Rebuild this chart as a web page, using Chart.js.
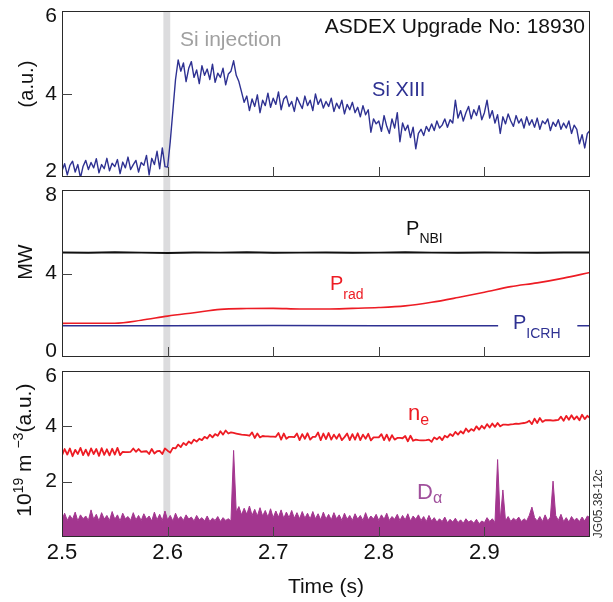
<!DOCTYPE html>
<html>
<head>
<meta charset="utf-8">
<script src="https://cdn.jsdelivr.net/npm/chart.js@4.4.1/dist/chart.umd.min.js"></script>
<style>
  html, body { margin: 0; padding: 0; background: #fff; }
  #wrap { position: relative; width: 613px; height: 602px; }
  .panel { position: absolute; left: 0; width: 613px; }
</style>
</head>
<body>
<div id="wrap">
  <div class="panel" style="top:0;height:183px"><canvas id="si"></canvas></div>
  <div class="panel" style="top:183px;height:181px"><canvas id="power"></canvas></div>
  <div class="panel" style="top:364px;height:238px"><canvas id="dens"></canvas></div>
</div>
<script>
const T_START = 2.5
const T_END = 3.0
const DT = 0.0025 // spacing of the fast diagnostics
const injection = [2.596, 2.6025]
const timeTicks = [2.6, 2.7, 2.8, 2.9]

// Si XIII line intensity (a.u.)
const siXIII = [
  2.15, 2.32, 2.05, 2.28, 2.38, 2.12, 2.30, 1.98, 2.26, 2.40,
  2.18, 2.35, 2.22, 2.44, 2.10, 2.30, 2.20, 2.45, 2.15, 2.33,
  2.25, 2.42, 2.08, 2.36, 2.22, 2.48, 2.18, 2.30, 2.40, 2.12,
  2.35, 2.28, 2.52, 2.05, 2.45, 2.30, 2.62, 2.20, 2.70, 2.25,
  2.24, 2.85, 3.60, 4.35, 4.82, 4.55, 4.75, 4.30, 4.62, 4.78,
  4.40, 4.58, 4.25, 4.68, 4.45, 4.60, 4.35, 4.72, 4.28, 4.50,
  4.40, 4.62, 4.22, 4.48, 4.55, 4.80, 4.45, 4.30, 4.05, 3.80,
  3.95, 3.60, 3.88, 3.70, 3.98, 3.55, 3.85, 3.72, 4.02, 3.68,
  3.90, 3.75, 4.05, 3.62, 3.88, 3.95, 3.70, 3.82, 3.58, 3.92,
  3.78, 3.65, 3.95, 3.72, 3.85, 3.60, 4.00, 3.75, 3.88, 3.66,
  3.82, 3.70, 3.90, 3.58, 3.78, 3.65, 3.85, 3.52, 3.75, 3.62,
  3.80, 3.55, 3.68, 3.45, 3.72, 3.50, 3.62, 3.08, 3.40, 3.28,
  3.35, 3.10, 3.48, 3.22, 3.05, 3.40, 3.18, 3.55, 2.85, 3.30,
  3.12, 3.25, 2.95, 3.20, 2.68, 3.05, 3.15, 3.00, 3.22, 3.10,
  3.28, 3.12, 3.35, 3.18, 3.25, 3.40, 3.20, 3.38, 3.30, 3.85,
  3.42, 3.60, 3.35, 3.55, 3.70, 3.40, 3.62, 3.48, 3.72, 3.38,
  3.55, 3.85, 3.42, 3.60, 3.30, 3.50, 3.05, 3.45, 3.28, 3.52,
  3.35, 3.22, 3.48, 3.30, 3.40, 3.18, 3.45, 3.25, 3.38, 3.20,
  3.42, 3.15, 3.35, 3.28, 3.40, 3.12, 3.32, 3.22, 3.38, 3.15,
  3.30, 3.18, 3.35, 3.05, 3.25, 3.15, 2.80, 3.02, 2.70, 3.05, 3.12
]

// line averaged density, 10^19 m^-3
const neLine = [
  2.95, 3.18, 2.98, 3.20, 2.92, 3.15, 3.00, 3.22, 2.96, 3.16,
  2.94, 3.20, 3.00, 3.18, 2.93, 3.21, 2.97, 3.17, 2.95, 3.19,
  2.98, 3.22, 2.96, 3.08, 3.07, 3.07, 3.08, 3.20, 3.08, 3.18,
  3.08, 3.09, 3.10, 3.00, 3.18, 3.02, 3.10, 3.11, 3.00, 3.20,
  3.12, 3.05, 3.22, 3.20, 3.34, 3.25, 3.40, 3.32, 3.45, 3.38,
  3.52, 3.45, 3.55, 3.50, 3.62, 3.56, 3.70, 3.60, 3.72, 3.66,
  3.82, 3.70, 3.85, 3.74, 3.78, 3.76, 3.74, 3.72, 3.70, 3.69,
  3.68, 3.66, 3.78, 3.58, 3.74, 3.60, 3.65, 3.64, 3.64, 3.63,
  3.63, 3.62, 3.76, 3.52, 3.74, 3.55, 3.62, 3.62, 3.61, 3.74,
  3.50, 3.72, 3.55, 3.75, 3.52, 3.62, 3.62, 3.78, 3.50, 3.74,
  3.54, 3.76, 3.52, 3.70, 3.55, 3.72, 3.50, 3.61, 3.74, 3.50,
  3.72, 3.52, 3.75, 3.50, 3.70, 3.55, 3.73, 3.49, 3.60, 3.60,
  3.60, 3.72, 3.50, 3.70, 3.48, 3.68, 3.52, 3.58, 3.58, 3.57,
  3.65, 3.46, 3.66, 3.48, 3.52, 3.50, 3.49, 3.49, 3.50, 3.52,
  3.44, 3.60, 3.53, 3.62, 3.50, 3.66, 3.60, 3.72, 3.65, 3.80,
  3.70, 3.82, 3.74, 3.92, 3.80, 3.90, 3.84, 4.00, 3.88, 4.02,
  3.92, 4.08, 3.96, 4.10, 3.98, 4.12, 4.00, 4.06, 4.06, 4.05,
  4.07, 4.08, 4.10, 4.09, 4.11, 4.12, 4.14, 4.20, 4.08, 4.28,
  4.12, 4.30, 4.16, 4.22, 4.22, 4.22, 4.21, 4.22, 4.23, 4.35,
  4.20, 4.38, 4.24, 4.40, 4.25, 4.36, 4.22, 4.42, 4.26, 4.38, 4.30
]

// D-alpha emission (a.u.)
const dAlpha = [
  0.62, 0.86, 0.60, 0.78, 0.64, 0.90, 0.58, 0.80, 0.66, 0.76,
  0.60, 0.98, 0.64, 0.82, 0.58, 0.88, 0.65, 0.78, 0.60, 0.92,
  0.64, 0.80, 0.58, 0.86, 0.66, 0.74, 0.60, 0.88, 0.62, 0.78,
  0.60, 0.84, 0.65, 0.76, 0.58, 0.90, 0.62, 0.82, 0.60, 0.94,
  0.62, 0.78, 0.58, 0.86, 0.64, 0.74, 0.60, 0.80, 0.65, 0.72,
  0.58, 0.78, 0.62, 0.70, 0.58, 0.76, 0.56, 0.68, 0.60, 0.74,
  0.56, 0.70, 0.60, 0.66, 0.58, 3.13, 0.90, 1.10, 0.80, 1.04,
  0.82, 1.12, 0.78, 1.00, 0.76, 1.06, 0.76, 0.96, 0.72, 1.02,
  0.70, 0.94, 0.72, 0.98, 0.68, 0.90, 0.70, 0.96, 0.68, 0.88,
  0.66, 0.92, 0.68, 0.86, 0.65, 0.92, 0.66, 0.84, 0.62, 0.90,
  0.65, 0.82, 0.62, 0.88, 0.66, 0.80, 0.60, 0.86, 0.64, 0.78,
  0.60, 0.84, 0.65, 0.78, 0.60, 0.88, 0.62, 0.76, 0.65, 0.82,
  0.60, 0.80, 0.64, 0.86, 0.60, 0.74, 0.64, 0.82, 0.60, 0.78,
  0.62, 0.84, 0.58, 0.76, 0.64, 0.80, 0.60, 0.74, 0.56, 0.78,
  0.58, 0.70, 0.54, 0.66, 0.56, 0.72, 0.52, 0.64, 0.54, 0.68,
  0.52, 0.62, 0.50, 0.66, 0.54, 0.60, 0.50, 0.64, 0.48, 0.58,
  0.52, 0.70, 0.56, 0.66, 0.52, 2.80, 0.60, 1.70, 0.58, 0.74,
  0.56, 0.68, 0.60, 0.72, 0.56, 0.66, 0.58, 0.78, 1.08, 0.70,
  0.58, 0.74, 0.56, 0.80, 0.58, 0.72, 2.02, 0.78, 0.60, 0.82,
  0.56, 0.70, 0.54, 0.74, 0.60, 0.68, 0.56, 0.72, 0.58, 0.76, 0.70
]

// heating and radiated power, MW
const slowTime = [2.5, 2.525, 2.55, 2.575, 2.6, 2.625, 2.65, 2.675, 2.7, 2.725, 2.75,
  2.775, 2.8, 2.825, 2.85, 2.875, 2.9, 2.925, 2.95, 2.975, 3.0]
const pNBI = [5.01, 4.99, 5.02, 5.00, 4.98, 5.01, 5.00, 5.02, 4.99, 5.00, 5.01,
  4.99, 5.00, 5.02, 5.00, 4.99, 5.01, 5.00, 4.99, 5.01, 5.00]
const pRad = [1.61, 1.62, 1.62, 1.76, 1.96, 2.12, 2.28, 2.32, 2.33, 2.30, 2.30,
  2.33, 2.37, 2.45, 2.62, 2.85, 3.10, 3.37, 3.55, 3.78, 4.05]
const icrhTime = [2.5, 2.6, 2.7, 2.8, 2.9, 2.913, 2.95, 2.988, 3.0]
const pICRH = [1.50, 1.50, 1.51, 1.50, 1.50, 1.50, null, 1.50, 1.50]

const fastTime = siXIII.map((_, i) => +(T_START + i * DT).toFixed(4))
const pairs = (ts, vs) => vs.map((v, i) => ({ x: ts[i], y: v }))

Chart.defaults.font.family = '"Liberation Sans", Arial, Helvetica, sans-serif'

const FONT = '"Liberation Sans", Arial, sans-serif'

function drawRich (ctx, parts, x, y, align) {
  let w = 0
  for (const p of parts) {
    ctx.font = p.size + 'px ' + FONT
    w += ctx.measureText(p.text).width
  }
  let cx = align === 'right' ? x - w : align === 'center' ? x - w / 2 : x
  for (const p of parts) {
    ctx.font = p.size + 'px ' + FONT
    ctx.fillStyle = p.color
    ctx.fillText(p.text, cx, y + (p.dy || 0))
    cx += ctx.measureText(p.text).width
  }
}

const panelDecor = {
  id: 'panelDecor',
  beforeDatasetsDraw (chart, args, opts) {
    const { ctx, chartArea: a, scales: { x } } = chart
    const x0 = x.getPixelForValue(injection[0])
    const x1 = x.getPixelForValue(injection[1])
    const top = opts.bandFromTop ? 0 : a.top
    const bottom = opts.bandToBottom ? chart.height : a.bottom
    ctx.save()
    ctx.fillStyle = '#dcdcde'
    ctx.fillRect(x0, top, x1 - x0, bottom - top)
    ctx.restore()
  },
  afterDraw (chart, args, opts) {
    const { ctx, chartArea: a, scales: { x, y } } = chart
    ctx.save()
    ctx.strokeStyle = '#2a2a2a'
    ctx.lineWidth = 1
    ctx.strokeRect(a.left + 0.5, a.top + 0.5, a.right - a.left - 1, a.bottom - a.top - 1)

    ctx.strokeStyle = '#444'
    ctx.beginPath()
    for (const t of timeTicks) {
      const px = Math.round(x.getPixelForValue(t)) + 0.5
      ctx.moveTo(px, a.bottom)
      ctx.lineTo(px, a.bottom - 10)
    }
    for (const v of opts.yMarks) {
      const py = Math.round(y.getPixelForValue(v)) + 0.5
      ctx.moveTo(a.left, py)
      ctx.lineTo(a.left + 10, py)
    }
    ctx.stroke()

    ctx.fillStyle = '#111'
    ctx.font = '21px ' + FONT
    ctx.textAlign = 'right'
    ctx.textBaseline = 'middle'
    for (const v of opts.yLabels) {
      const py = Math.min(Math.max(y.getPixelForValue(v), a.top + 5), a.bottom - 6)
      ctx.fillText(String(v), a.left - 5, py)
    }

    ctx.textAlign = 'left'
    ctx.textBaseline = 'alphabetic'
    // rotated axis title
    const tp = opts.title
    ctx.save()
    ctx.translate(a.left - tp.dx, y.getPixelForValue(tp.y))
    ctx.rotate(-Math.PI / 2)
    drawRich(ctx, tp.parts, 0, 7, 'center')
    ctx.restore()

    for (const lab of opts.labels) {
      drawRich(ctx, lab.parts, x.getPixelForValue(lab.x), y.getPixelForValue(lab.y), lab.align)
    }

    if (opts.code) {
      ctx.save()
      ctx.translate(a.right + 12, y.getPixelForValue(opts.code.y))
      ctx.rotate(-Math.PI / 2)
      drawRich(ctx, [{ text: opts.code.text, size: 12, color: '#333' }], 0, 0, 'center')
      ctx.restore()
    }
    ctx.restore()
  }
}

function makePanel (id, datasets, yMin, yMax, padding, showTime, decor) {
  return new Chart(document.getElementById(id), {
    type: 'line',
    data: { datasets },
    options: {
      responsive: true,
      maintainAspectRatio: false,
      animation: false,
      events: [],
      layout: { padding },
      elements: { point: { radius: 0 }, line: { borderJoinStyle: 'round' } },
      scales: {
        x: {
          type: 'linear',
          min: T_START,
          max: T_END,
          display: showTime,
          grid: { display: false, drawTicks: false },
          border: { display: false },
          ticks: {
            stepSize: 0.1,
            padding: 3,
            autoSkip: false,
            maxRotation: 0,
            color: '#111',
            font: { size: 22 },
            callback: v => v < 2.95 ? v.toFixed(1) : ''
          },
          title: { display: true, text: 'Time (s)', color: '#111', font: { size: 21 }, padding: { top: 0, bottom: 2 } },
          afterFit: s => { if (showTime) s.height = 65 }
        },
        y: { display: false, min: yMin, max: yMax }
      },
      plugins: { legend: { display: false }, tooltip: { enabled: false }, panelDecor: decor }
    },
    plugins: [panelDecor]
  })
}

const BLUE = '#2e3192'
const RED = '#ed1c24'
const PURPLE = '#a3368f'

makePanel('si', [
  { data: pairs(fastTime, siXIII), borderColor: BLUE, borderWidth: 1.4 }
], 2, 6, { left: 62, right: 23, top: 11, bottom: 6 }, false, {
  bandToBottom: true,
  yMarks: [4],
  yLabels: [2, 4, 6],
  title: { dx: 36, y: 4.24, parts: [{ text: '(a.u.)', size: 20, color: '#111' }] },
  labels: [
    { x: 2.9953, y: 5.47, align: 'right', parts: [{ text: 'ASDEX Upgrade No: 18930', size: 21, color: '#111' }] },
    { x: 2.6117, y: 5.16, align: 'left', parts: [{ text: 'Si injection', size: 21, color: '#a0a0a0' }] },
    { x: 2.7936, y: 3.95, align: 'left', parts: [{ text: 'Si XIII', size: 20, color: BLUE }] }
  ]
})

makePanel('power', [
  { data: pairs(slowTime, pNBI), borderColor: '#111', borderWidth: 2 },
  { data: pairs(slowTime, pRad), borderColor: RED, borderWidth: 1.6, cubicInterpolationMode: 'monotone' },
  { data: pairs(icrhTime, pICRH), borderColor: BLUE, borderWidth: 1.6, spanGaps: false }
], 0, 8, { left: 62, right: 23, top: 7, bottom: 7 }, false, {
  bandFromTop: true,
  bandToBottom: true,
  yMarks: [4],
  yLabels: [0, 4, 8],
  title: { dx: 37, y: 4.55, parts: [{ text: 'MW', size: 20, color: '#111' }] },
  labels: [
    { x: 2.8258, y: 5.84, align: 'left', parts: [{ text: 'P', size: 20, color: '#111' }, { text: 'NBI', size: 14, color: '#111', dy: 8 }] },
    { x: 2.7538, y: 3.21, align: 'left', parts: [{ text: 'P', size: 20, color: RED }, { text: 'rad', size: 14, color: RED, dy: 9 }] },
    { x: 2.9271, y: 1.34, align: 'left', parts: [{ text: 'P', size: 20, color: BLUE }, { text: 'ICRH', size: 14, color: BLUE, dy: 9 }] }
  ]
})

makePanel('dens', [
  { data: pairs(fastTime, neLine), borderColor: RED, borderWidth: 1.8 },
  { data: pairs(fastTime, dAlpha), borderColor: PURPLE, backgroundColor: PURPLE, borderWidth: 1, fill: 'origin' }
], 0, 6, { left: 62, right: 23, top: 7, bottom: 0 }, true, {
  bandFromTop: true,
  yMarks: [2, 4],
  yLabels: [2, 4, 6],
  title: {
    dx: 38,
    y: 3.14,
    parts: [
      { text: '10', size: 21, color: '#111' },
      { text: '19', size: 14, color: '#111', dy: -8 },
      { text: ' m ', size: 21, color: '#111' },
      { text: '\u22123', size: 14, color: '#111', dy: -8 },
      { text: '(a.u.)', size: 21, color: '#111' }
    ]
  },
  labels: [
    { x: 2.8277, y: 4.23, align: 'left', parts: [{ text: 'n', size: 22, color: RED }, { text: 'e', size: 16, color: RED, dy: 5 }] },
    { x: 2.8362, y: 1.37, align: 'left', parts: [{ text: 'D', size: 22, color: '#a0509c' }, { text: '\u03b1', size: 16, color: '#a0509c', dy: 4 }] }
  ],
  code: { text: 'JG05.38-12c', y: 1.2 }
})
</script>
</body>
</html>
